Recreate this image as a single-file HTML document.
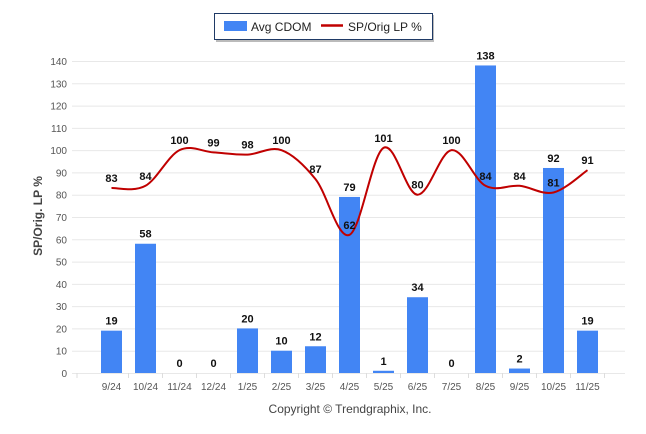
<!DOCTYPE html>
<html><head><meta charset="utf-8"><style>
body{margin:0;background:#fff;font-family:"Liberation Sans",sans-serif;}
svg{display:block}
</style></head><body>
<svg id="chart" width="646" height="434">
  <g>
    <rect x="216" y="15" width="218" height="27" fill="#bbb"/>
    <rect x="214.5" y="13.5" width="218" height="26" fill="#fff" stroke="#1f3a66" stroke-width="1"/>
    <rect x="224" y="21" width="23" height="10" fill="#4285f4"/>
    <text x="251" y="31" font-size="12" fill="#222">Avg CDOM</text>
    <line x1="321" y1="25.5" x2="343" y2="25.5" stroke="#c00000" stroke-width="2.5"/>
    <text x="348" y="31" font-size="12" fill="#222">SP/Orig LP %</text>
  </g>
  <g id="grid"></g>
  <g id="bars"></g>
  <g id="line"></g>
  <g id="labels"></g>
  <text x="0" y="0" transform="translate(42,216) rotate(-90)" text-anchor="middle" font-size="12" font-weight="bold" fill="#444">SP/Orig. LP %</text>
  <text x="350" y="413" text-anchor="middle" font-size="12" fill="#444">Copyright © Trendgraphix, Inc.</text>
</svg>
<script>
const categories=["9/24","10/24","11/24","12/24","1/25","2/25","3/25","4/25","5/25","6/25","7/25","8/25","9/25","10/25","11/25"];
const cdomValues=[19,58,0,0,20,10,12,79,1,34,0,138,2,92,19];
const spValues=[83,84,100,99,98,100,87,62,101,80,100,84,84,81,91];
const yTicks=[0,10,20,30,40,50,60,70,80,90,100,110,120,130,140];
const NS="http://www.w3.org/2000/svg";
const y=v=>373-v*(312/140);
const x=i=>111.5+i*34;
function mk(tag,attrs,parent,text){const e=document.createElementNS(NS,tag);for(const k in attrs)e.setAttribute(k,attrs[k]);if(text!==undefined)e.textContent=text;parent.appendChild(e);return e;}
const grid=document.getElementById('grid'),bars=document.getElementById('bars'),line=document.getElementById('line'),labels=document.getElementById('labels');
yTicks.forEach(t=>{
  const g=mk('line',{x1:72,x2:625,y1:y(t)+0.5,y2:y(t)+0.5,stroke:'#e8e8e8'},grid);
  
  
  const l=mk('text',{x:67,y:y(t)+4,'text-anchor':'end','font-size':'10',fill:'#555'},grid,String(t));
  
  
});
const tk=[77];categories.forEach((c,i)=>tk.push(x(i)+17));
tk.forEach((tx,i)=>{const t=mk('line',{x1:tx,x2:tx,y1:373,y2:378,stroke:'#ddd'},grid);
  
  });
categories.forEach((c,i)=>{
  const l=mk('text',{x:x(i),y:390,'text-anchor':'middle','font-size':'10',fill:'#555'},grid,c);
  
  
  const v=cdomValues[i];
  const b=mk('rect',{x:x(i)-10.5,y:y(v),width:21,height:373-y(v),fill:'#4285f4'},bars);
  
  
  const bl=mk('text',{x:x(i),y:y(v)-6,'text-anchor':'middle','font-size':'11','font-weight':'bold',fill:'#111'},labels,String(v));
  
  
});
const pts=spValues.map((v,i)=>[x(i),y(v)]);
let d='M'+pts[0][0]+','+pts[0][1];
for(let i=0;i<pts.length-1;i++){
  const p0=pts[Math.max(0,i-1)],p1=pts[i],p2=pts[i+1],p3=pts[Math.min(pts.length-1,i+2)];
  const t=0.17;
  const c1=[p1[0]+(p2[0]-p0[0])*t,p1[1]+(p2[1]-p0[1])*t];
  const c2=[p2[0]-(p3[0]-p1[0])*t,p2[1]-(p3[1]-p1[1])*t];
  d+=' C'+c1[0]+','+c1[1]+' '+c2[0]+','+c2[1]+' '+p2[0]+','+p2[1];
}
const path=mk('path',{d:d,fill:'none',stroke:'#c00000','stroke-width':2},line);


spValues.forEach((v,i)=>{
  const l=mk('text',{x:x(i),y:y(v)-6,'text-anchor':'middle','font-size':'11','font-weight':'bold',fill:'#111'},labels,String(v));
  
  
});
</script>
</body></html>
